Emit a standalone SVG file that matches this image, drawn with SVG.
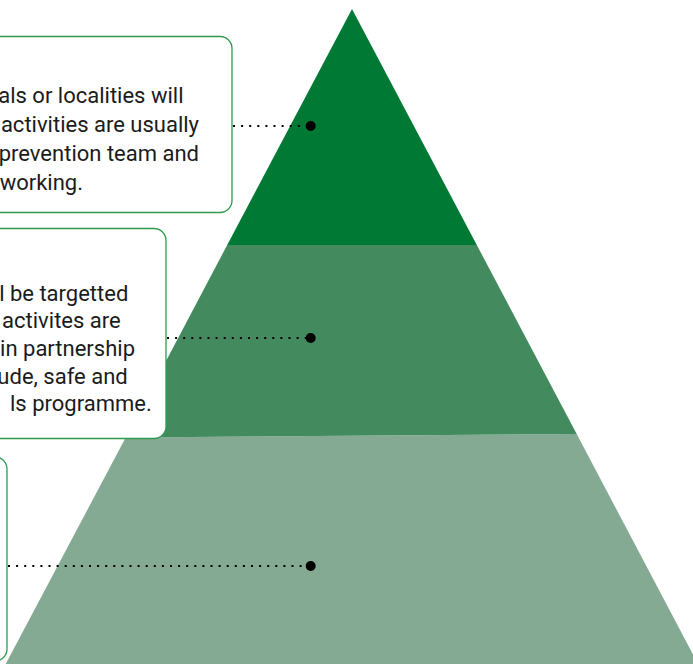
<svg xmlns="http://www.w3.org/2000/svg" width="693" height="664" viewBox="0 0 693 664">
<style>
.box{fill:#ffffff;stroke:#2f9a50;stroke-width:1.3}
.t{font-family:Roboto,"Liberation Sans",sans-serif;font-size:22px;fill:#1b1b1b;text-anchor:end}
.conn{stroke:#000;stroke-width:2;stroke-dasharray:2 6.1;fill:none}
.dot{fill:#000}
</style>
<rect width="693" height="664" fill="#ffffff"/>
<g id="pyramid">
<polygon id="tier-bottom" points="125.7,437.5 576.7,434 698,664 5.7,664" fill="#85aa93"/>
<polygon id="tier-middle" points="227.2,245 476.8,245 576.7,434 125.7,437.5" fill="#438b5f"/>
<polygon id="tier-top" points="352,9 227.2,245 476.8,245" fill="#007935"/>
</g>
<g id="connectors">
<line class="conn" x1="233" y1="126" x2="306" y2="126"/>
<line class="conn" x1="167" y1="338" x2="306" y2="338"/>
<line class="conn" x1="8" y1="566" x2="306" y2="566"/>
<circle class="dot" cx="310.7" cy="126" r="5"/>
<circle class="dot" cx="310.7" cy="338" r="5"/>
<circle class="dot" cx="310.7" cy="566" r="5"/>
</g>
<g id="box1">
<rect class="box" x="-300" y="36.5" width="532" height="176" rx="12"/>
<text class="t" x="183.5" y="103">als or localities will</text>
<text class="t" x="199" y="132">activities are usually</text>
<text class="t" x="199" y="161">prevention team and</text>
<text class="t" x="83" y="190">working.</text>
</g>
<g id="box2">
<rect class="box" x="-300" y="228.5" width="466" height="210" rx="12"/>
<text class="t" x="128.3" y="300.5">l be targetted</text>
<text class="t" x="120.7" y="328">activites are</text>
<text class="t" x="135" y="356">in partnership</text>
<text class="t" x="127.7" y="383.5">ude, safe and</text>
<text class="t" x="151.7" y="411">ls programme.</text>
</g>
<g id="box3">
<rect class="box" x="-300" y="457" width="307" height="204" rx="12"/>
</g>
</svg>
